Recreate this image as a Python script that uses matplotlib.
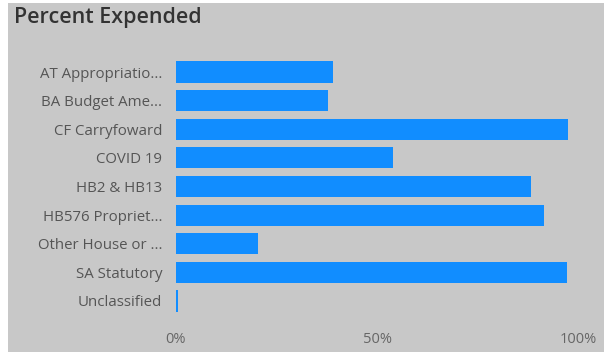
import matplotlib
matplotlib.use("Agg")
import matplotlib.pyplot as plt
from matplotlib.patches import Rectangle

categories = ["AT Appropriatio...", "BA Budget Ame...", "CF Carryfoward", "COVID 19",
              "HB2 & HB13", "HB576 Propriet...", "Other House or ...", "SA Statutory", "Unclassified"]
values = [39.0, 37.8, 97.5, 54.0, 88.3, 91.6, 20.4, 97.3, 0.5]
xticks = [0, 50, 100]
xticklabels = ["0%", "50%", "100%"]

plt.rcParams['font.family'] = ['Open Sans', 'DejaVu Sans']

W, H = 614, 352
fig = plt.figure(figsize=(W / 100, H / 100), dpi=100, facecolor="white")
fig.patches.append(Rectangle((8 / W, 0), (604 - 8) / W, 1 - 3 / H, transform=fig.transFigure,
                             facecolor="#c8c8c8", edgecolor="none", zorder=-10))

left, right = 176 / W, 578 / W
top, bottom = 1 - 57.7 / H, 1 - 315.3 / H
ax = fig.add_axes([left, bottom, right - left, top - bottom])
ax.set_zorder(5)
ax.set_facecolor("none")
y = list(range(len(categories)))
ax.barh(y, values, height=0.74, color="#118DFF")
ax.set_ylim(len(categories) - 0.5, -0.5)
ax.set_xlim(0, 100)
ax.set_yticks(y)
ax.set_yticklabels(categories, fontsize=10.8, color="#555555")
ax.set_xticks(xticks)
ax.set_xticklabels(xticklabels, fontsize=10.5, color="#666666")
ax.tick_params(axis="y", length=0, pad=10)
ax.tick_params(axis="x", length=0, pad=12)
for s in ax.spines.values():
    s.set_visible(False)

fig.text(14 / W, 1 - 18 / H, "Percent Expended", fontsize=15.5, fontweight="semibold",
         color="#333333", ha="left", va="center", zorder=6)

fig.savefig("out.png", dpi=100, facecolor=fig.get_facecolor())
